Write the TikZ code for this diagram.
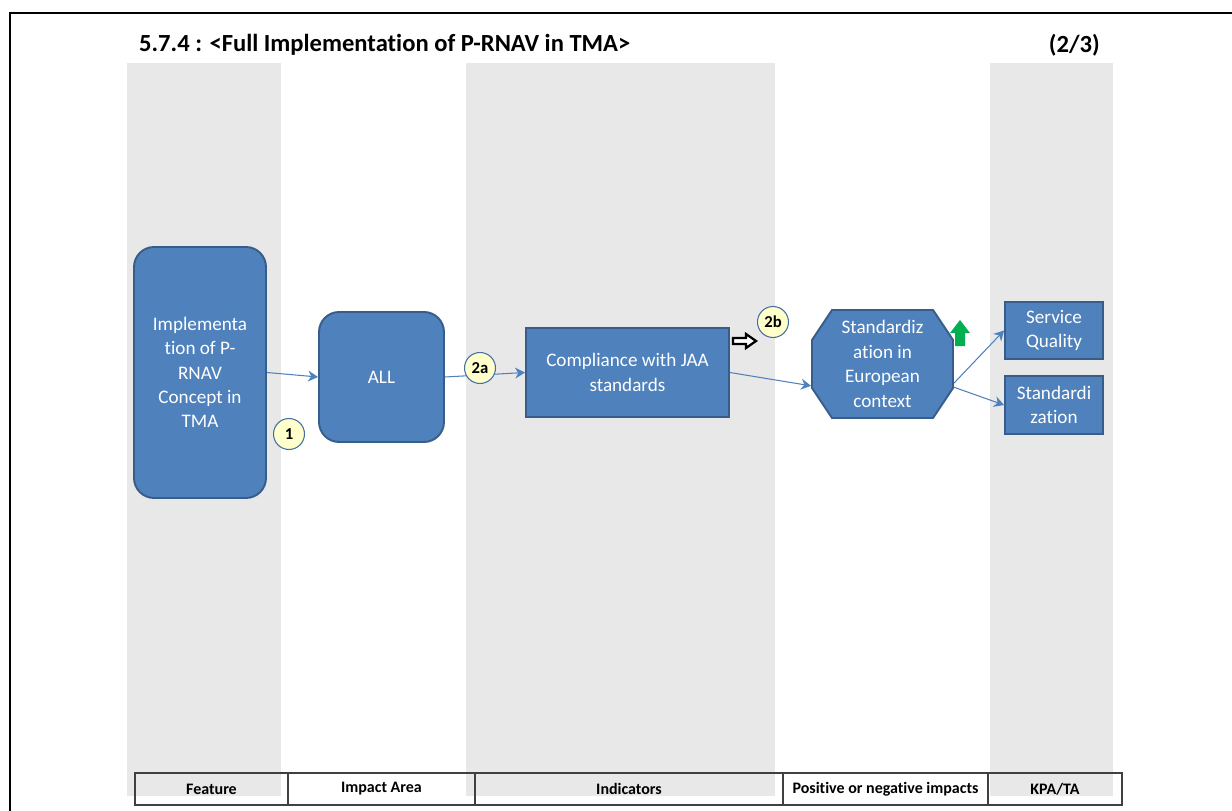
\documentclass[tikz,border=0pt]{standalone}
\usepackage{fontspec}
\setmainfont{Carlito}[Ligatures=NoCommon]
\usetikzlibrary{arrows.meta}
\definecolor{boxblue}{HTML}{4F81BD}
\definecolor{boxedge}{HTML}{385D8A}
\definecolor{colgray}{HTML}{E8E8E8}
\definecolor{numfill}{HTML}{FFFFCC}
\definecolor{upgreen}{HTML}{00B050}
\tikzset{
  box/.style={draw=boxedge, line width=1.1pt, fill=boxblue, text=white, align=center,
    font=\fontsize{10.9}{13.9}\selectfont, inner sep=2pt},
  roundbox/.style={box, rounded corners=0.4cm},
  num/.style={circle, draw=boxblue!85!black, line width=0.6pt, fill=numfill,
    minimum size=0.62cm, inner sep=0pt, font=\fontsize{9.5}{10}\selectfont\bfseries},
  link/.style={-{Stealth[length=2mm,width=2.2mm]}, boxblue, line width=0.6pt},
  tabcell/.style={draw=black!75, line width=0.9pt, minimum height=0.64cm, inner sep=0pt,
    font=\fontsize{9.1}{10}\selectfont\bfseries}
}
\begin{document}
\begin{tikzpicture}[x=0.02cm, y=-0.02cm]
    \useasboundingbox (0,0) rectangle (1232,811);

    % lanes
    \foreach \l / \r in {127/281, 466/775, 990/1113}
        {
            \fill[colgray] (\l, 63) rectangle (\r, 796);
        }
    \draw[line width=1.7pt] (10, 811) -- (10, 13) -- (1232, 13);

    \node[anchor=west, font=\fontsize{14}{16}\selectfont\bfseries] (title) at (133, 45)
        {5.7.4 : <Full Implementation of P-RNAV in TMA>};
    \node[anchor=east, font=\fontsize{14}{16}\selectfont\bfseries] (page) at (1106, 45) {(2/3)};

    % boxes
    \node[roundbox, minimum width=2.64cm, minimum height=5.02cm] (feat) at (200, 372.5)
        {Implementa\\tion of P-\\RNAV\\Concept in\\TMA};
    \node[roundbox, minimum width=2.5cm, minimum height=2.6cm] (all) at (381.5, 377) {ALL};
    \node[box, minimum width=4.06cm, minimum height=1.78cm] (comp) at (627.5, 372.5)
        {Compliance with JAA\\standards};
    \filldraw[draw=boxedge, line width=1.1pt, fill=boxblue] (832, 310) -- (933, 310) -- (953, 340)
        -- (953, 388) -- (933, 418) -- (832, 418) -- (812, 388) -- (812, 340) -- cycle;
    \node[box, draw=none, fill=none, minimum width=2.82cm, minimum height=2.16cm] (euro)
        at (882.5, 364) {Standardiz\\ation in\\European\\context};
    \node[box, minimum width=1.96cm, minimum height=1.14cm] (sq) at (1054, 330.5) {Service\\Quality};
    \node[box, minimum width=1.96cm, minimum height=1.16cm] (std) at (1054, 405) {Standardi\\zation};

    % links
    \draw[link] (feat.east) -- (all.west);
    \draw[link] (all.east) -- (comp.west);
    \draw[link] (comp.east) -- (euro.197);
    \draw[link] (euro.-15) -- (sq.west);
    \draw[link] (euro.-18) -- (std.west);

    \node[num] (n1) at (289, 434) {1};
    \node[num] (n2a) at (480, 368) {2a};
    \node[num] (n2b) at (773, 322) {2b};

    % impact marks
    \fill[upgreen] (955, 346) -- (955, 333) -- (950, 333) -- (960, 320) -- (970, 333)
        -- (965, 333) -- (965, 346) -- cycle;
    \draw[line width=1.3pt, fill=white] (733, 338) -- (746, 338) -- (746, 334) -- (756, 341)
        -- (746, 348) -- (746, 344) -- (733, 344) -- cycle;

    % table
    \foreach \cx / \w / \t [count=\i] in {211.5/3.06/Feature, 381.5/3.74/Impact Area,
        629/6.16/Indicators, 885.5/4.10/Positive or negative impacts, 1055/2.68/{KPA/TA}}
        {
            \node[tabcell, minimum width=\w cm] (col\i) at (\cx, 789) {\t};
        }
\end{tikzpicture}
\end{document}
